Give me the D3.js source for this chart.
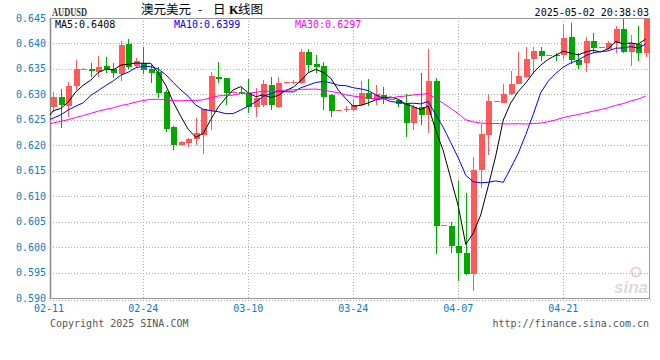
<!DOCTYPE html>
<html>
<head>
<meta charset="utf-8">
<script src="https://cdn.jsdelivr.net/npm/d3@7/dist/d3.min.js"></script>
<style>
  body { margin: 0; background: #fff; }
  svg text { font-family: "DejaVu Sans Mono", monospace; font-size: 10px; }
</style>
</head>
<body>
<svg id="chart" width="660" height="360"></svg>
<script>
// closes before the visible window (needed so the moving averages start at the left edge), last one is 02-11
const prevCloses = [0.6180, 0.6195, 0.6210, 0.6225, 0.6230, 0.6220, 0.6224, 0.6240, 0.6255, 0.6262,
  0.6268, 0.6250, 0.6250, 0.6280, 0.6290, 0.6275, 0.6240, 0.6220, 0.6192, 0.6225,
  0.6235, 0.6215, 0.6222, 0.6275, 0.6282, 0.6200, 0.6258, 0.6252, 0.6250, 0.6285];

// daily candles 02-12 .. 05-02
const opens = [0.6275, 0.6294, 0.6277, 0.6316, 0.6348, 0.6350, 0.6343, 0.6356, 0.6349, 0.6340,
  0.6399, 0.6356, 0.6362, 0.6350, 0.6343, 0.6305, 0.6235, 0.6201, 0.6205, 0.6212,
  0.6220, 0.6268, 0.6334, 0.6332, 0.6303, 0.6305, 0.6302, 0.6276, 0.6279, 0.6318,
  0.6276, 0.6322, 0.6322, 0.6323, 0.6383, 0.6360, 0.6356, 0.6299, 0.6268, 0.6270,
  0.6270, 0.6280, 0.6303, 0.6288, 0.6299, 0.6289, 0.6289, 0.6281, 0.6243, 0.6275,
  0.6259, 0.6327, 0.6042, 0.6042, 0.6003, 0.5989, 0.5948, 0.6151, 0.6220, 0.6285,
  0.6284, 0.6300, 0.6321, 0.6334, 0.6369, 0.6386, 0.6376, 0.6378, 0.6378, 0.6412,
  0.6368, 0.6361, 0.6404, 0.6392, 0.6389, 0.6400, 0.6428, 0.6384, 0.6399, 0.6381];
const highs = [0.6304, 0.6310, 0.6325, 0.6368, 0.6351, 0.6361, 0.6375, 0.6373, 0.6361, 0.6404,
  0.6408, 0.6371, 0.6394, 0.6358, 0.6353, 0.6309, 0.6238, 0.6208, 0.6214, 0.6254,
  0.6272, 0.6343, 0.6364, 0.6333, 0.6306, 0.6315, 0.6330, 0.6312, 0.6328, 0.6335,
  0.6335, 0.6325, 0.6328, 0.6390, 0.6390, 0.6377, 0.6364, 0.6300, 0.6270, 0.6277,
  0.6290, 0.6326, 0.6330, 0.6318, 0.6314, 0.6291, 0.6291, 0.6301, 0.6280, 0.6342,
  0.6389, 0.6333, 0.6044, 0.6050, 0.6129, 0.6107, 0.6177, 0.6242, 0.6301, 0.6287,
  0.6321, 0.6345, 0.6384, 0.6394, 0.6394, 0.6394, 0.6378, 0.6381, 0.6436, 0.6441,
  0.6382, 0.6413, 0.6421, 0.6394, 0.6405, 0.6434, 0.6449, 0.6417, 0.6434, 0.6449];
const lows = [0.6265, 0.6233, 0.6255, 0.6308, 0.6347, 0.6335, 0.6335, 0.6341, 0.6333, 0.6327,
  0.6349, 0.6353, 0.6340, 0.6322, 0.6292, 0.6227, 0.6190, 0.6200, 0.6197, 0.6201,
  0.6183, 0.6230, 0.6322, 0.6279, 0.6302, 0.6300, 0.6263, 0.6256, 0.6276, 0.6269,
  0.6274, 0.6321, 0.6320, 0.6321, 0.6341, 0.6341, 0.6269, 0.6256, 0.6268, 0.6266,
  0.6267, 0.6278, 0.6277, 0.6280, 0.6281, 0.6289, 0.6276, 0.6217, 0.6230, 0.6240,
  0.6225, 0.5987, 0.6042, 0.5989, 0.5933, 0.5945, 0.5913, 0.6116, 0.6181, 0.6285,
  0.6283, 0.6299, 0.6320, 0.6333, 0.6340, 0.6366, 0.6376, 0.6366, 0.6369, 0.6360,
  0.6350, 0.6344, 0.6382, 0.6392, 0.6388, 0.6382, 0.6382, 0.6355, 0.6366, 0.6373];
const closes = [0.6295, 0.6279, 0.6317, 0.6349, 0.6350, 0.6345, 0.6354, 0.6350, 0.6341, 0.6397,
  0.6354, 0.6366, 0.6347, 0.6341, 0.6303, 0.6232, 0.6201, 0.6207, 0.6213, 0.6225,
  0.6271, 0.6337, 0.6330, 0.6302, 0.6305, 0.6302, 0.6276, 0.6292, 0.6320, 0.6279,
  0.6322, 0.6324, 0.6325, 0.6384, 0.6358, 0.6354, 0.6295, 0.6267, 0.6270, 0.6272,
  0.6280, 0.6303, 0.6291, 0.6300, 0.6290, 0.6290, 0.6281, 0.6243, 0.6276, 0.6259,
  0.6327, 0.6042, 0.6044, 0.6003, 0.5989, 0.5948, 0.6152, 0.6223, 0.6286, 0.6286,
  0.6300, 0.6320, 0.6336, 0.6369, 0.6386, 0.6376, 0.6377, 0.6375, 0.6410, 0.6368,
  0.6358, 0.6405, 0.6392, 0.6393, 0.6400, 0.6428, 0.6384, 0.6400, 0.6381, 0.6449];

const tickLabels = ["02-11", "02-24", "03-10", "03-24", "04-07", "04-21"];
const yTicks = [0.590, 0.595, 0.600, 0.605, 0.610, 0.615, 0.620, 0.625, 0.630, 0.635, 0.640, 0.645];
const maPeriods = [5, 10, 30];
const maColors = ["#000000", "#0000ff", "#ff00ff"];

const svg = d3.select("#chart");
const plotL = 50, plotR = 650, plotT = 18, plotB = 298;
const blue = "#0a7ccc";
const upColor = "#ff5a5a", downColor = "#00a800";

const dayOf = (s) => new Date(Date.UTC(2025, +s.slice(0, 2) - 1, +s.slice(3)));
const firstDay = dayOf("02-11");
const candleDays = d3.utcDay.range(dayOf("02-12"), dayOf("05-03"));

const x = d3.scaleUtc().domain([firstDay, dayOf("05-02")]).range([45.8, 645.7]);
const y = d3.scaleLinear().domain([0.590, 0.645]).range([plotB, plotT]);

const candles = candleDays.map((d, i) => ({ date: d, o: opens[i], h: highs[i], l: lows[i], c: closes[i] }));

// moving averages from 02-11 on
const allCloses = prevCloses.concat(closes);
const offset = prevCloses.length - 1;
const maSeries = maPeriods.map((p) => {
  const pts = [];
  for (let k = offset; k < allCloses.length; k++) {
    pts.push({ date: d3.utcDay.offset(firstDay, k - offset), v: d3.mean(allCloses.slice(k - p + 1, k + 1)) });
  }
  return pts;
});

svg.append("defs").append("clipPath").attr("id", "plotclip")
  .append("rect").attr("x", plotL).attr("y", plotT).attr("width", plotR - plotL).attr("height", plotB - plotT);

// grid
const grid = svg.append("g").attr("stroke", "#aaa").attr("stroke-dasharray", "1,2").attr("shape-rendering", "crispEdges");
grid.selectAll(".hg").data(yTicks.filter((t) => t > 0.5901 && t < 0.6449)).enter().append("line")
  .attr("x1", plotL).attr("x2", plotR).attr("y1", (d) => Math.round(y(d)) + 0.5).attr("y2", (d) => Math.round(y(d)) + 0.5);
grid.selectAll(".vg").data(tickLabels.slice(1)).enter().append("line")
  .attr("x1", (d) => Math.round(x(dayOf(d))) + 0.5).attr("x2", (d) => Math.round(x(dayOf(d))) + 0.5)
  .attr("y1", plotT).attr("y2", plotB);
grid.append("line").attr("x1", plotL).attr("x2", plotR + 2).attr("y1", 300.5).attr("y2", 300.5);

// frame
svg.append("rect").attr("x", plotL + 0.5).attr("y", plotT + 0.5).attr("width", plotR - plotL - 1).attr("height", plotB - plotT)
  .attr("fill", "none").attr("stroke", "#999").attr("shape-rendering", "crispEdges");
svg.append("line").attr("x1", plotL + 0.5).attr("x2", plotL + 0.5).attr("y1", plotT).attr("y2", plotB + 1)
  .attr("stroke", "#888").attr("stroke-width", 1.5);

// watermark
const wm = svg.append("g").attr("opacity", 0.35);
wm.append("circle").attr("cx", 636).attr("cy", 272).attr("r", 4.5).attr("fill", "none").attr("stroke", "#e07070").attr("stroke-width", 2);
wm.append("text").attr("x", 648).attr("y", 293).attr("text-anchor", "end")
  .style("font-family", "Liberation Sans").style("font-size", "17px").style("font-weight", "bold").style("font-style", "italic")
  .attr("fill", "#999").text("sina");

// candles
const plot = svg.append("g").attr("clip-path", "url(#plotclip)");
const cg = plot.append("g").attr("shape-rendering", "crispEdges");
const candle = cg.selectAll("g.candle").data(candles).enter().append("g");
candle.append("line")
  .attr("x1", (d) => Math.round(x(d.date)) + 0.5).attr("x2", (d) => Math.round(x(d.date)) + 0.5)
  .attr("y1", (d) => y(d.h)).attr("y2", (d) => y(d.l))
  .attr("stroke", (d) => (d.c >= d.o ? upColor : downColor));
candle.append("rect")
  .attr("x", (d) => Math.round(x(d.date)) - 2.5).attr("width", 6.5)
  .attr("y", (d) => y(Math.max(d.o, d.c)))
  .attr("height", (d) => Math.max(1, Math.abs(y(d.o) - y(d.c))))
  .attr("fill", (d) => (d.c >= d.o ? upColor : downColor));

// moving average lines
const line = d3.line().x((d) => x(d.date)).y((d) => y(d.v));
maSeries.forEach((s, i) => {
  plot.append("path").attr("d", line(s)).attr("fill", "none").attr("stroke", maColors[i]).attr("stroke-width", 1);
});

// legend
const legendX = [55, 174, 295];
maPeriods.forEach((p, i) => {
  const last = maSeries[i][maSeries[i].length - 1].v;
  svg.append("text").attr("x", legendX[i]).attr("y", 28).attr("fill", maColors[i]).text("MA" + p + ":" + last.toFixed(4));
});

// y axis labels
svg.selectAll(".ylab").data(yTicks).enter().append("text")
  .attr("x", 46).attr("y", (d) => y(d) + 3.5).attr("text-anchor", "end").attr("fill", blue)
  .text((d) => d.toFixed(3));

// x axis labels
svg.selectAll(".xlab").data(tickLabels).enter().append("text")
  .attr("x", (d) => Math.max(49, x(dayOf(d)))).attr("y", 312).attr("text-anchor", "middle").attr("fill", blue)
  .text((d) => d);

// titles
svg.append("text").attr("x", 52).attr("y", 16).attr("textLength", 35).attr("lengthAdjust", "spacingAndGlyphs")
  .style("font-family", "Liberation Serif").style("font-size", "12px").style("font-weight", "bold").attr("fill", "#333")
  .text("AUDUSD");
const title = svg.append("text").attr("y", 14).style("font-family", "Noto Sans CJK SC").style("font-size", "12.5px").attr("fill", "#000");
title.append("tspan").attr("x", 141).text("澳元美元");
title.append("tspan").attr("x", 198).text("-");
title.append("tspan").attr("x", 213).text("日");
title.append("tspan").attr("x", 229).style("font-family", "Liberation Serif").style("font-weight", "bold").text("K");
title.append("tspan").attr("x", 238).text("线图");
svg.append("text").attr("x", 649).attr("y", 16).attr("text-anchor", "end").attr("fill", "#000")
  .text("2025-05-02 20:38:03");

svg.append("text").attr("x", 50).attr("y", 327).attr("fill", "#555").text("Copyright 2025 SINA.COM");
svg.append("text").attr("x", 649).attr("y", 327).attr("text-anchor", "end").attr("fill", "#555").text("http://finance.sina.com.cn");
</script>
</body>
</html>
